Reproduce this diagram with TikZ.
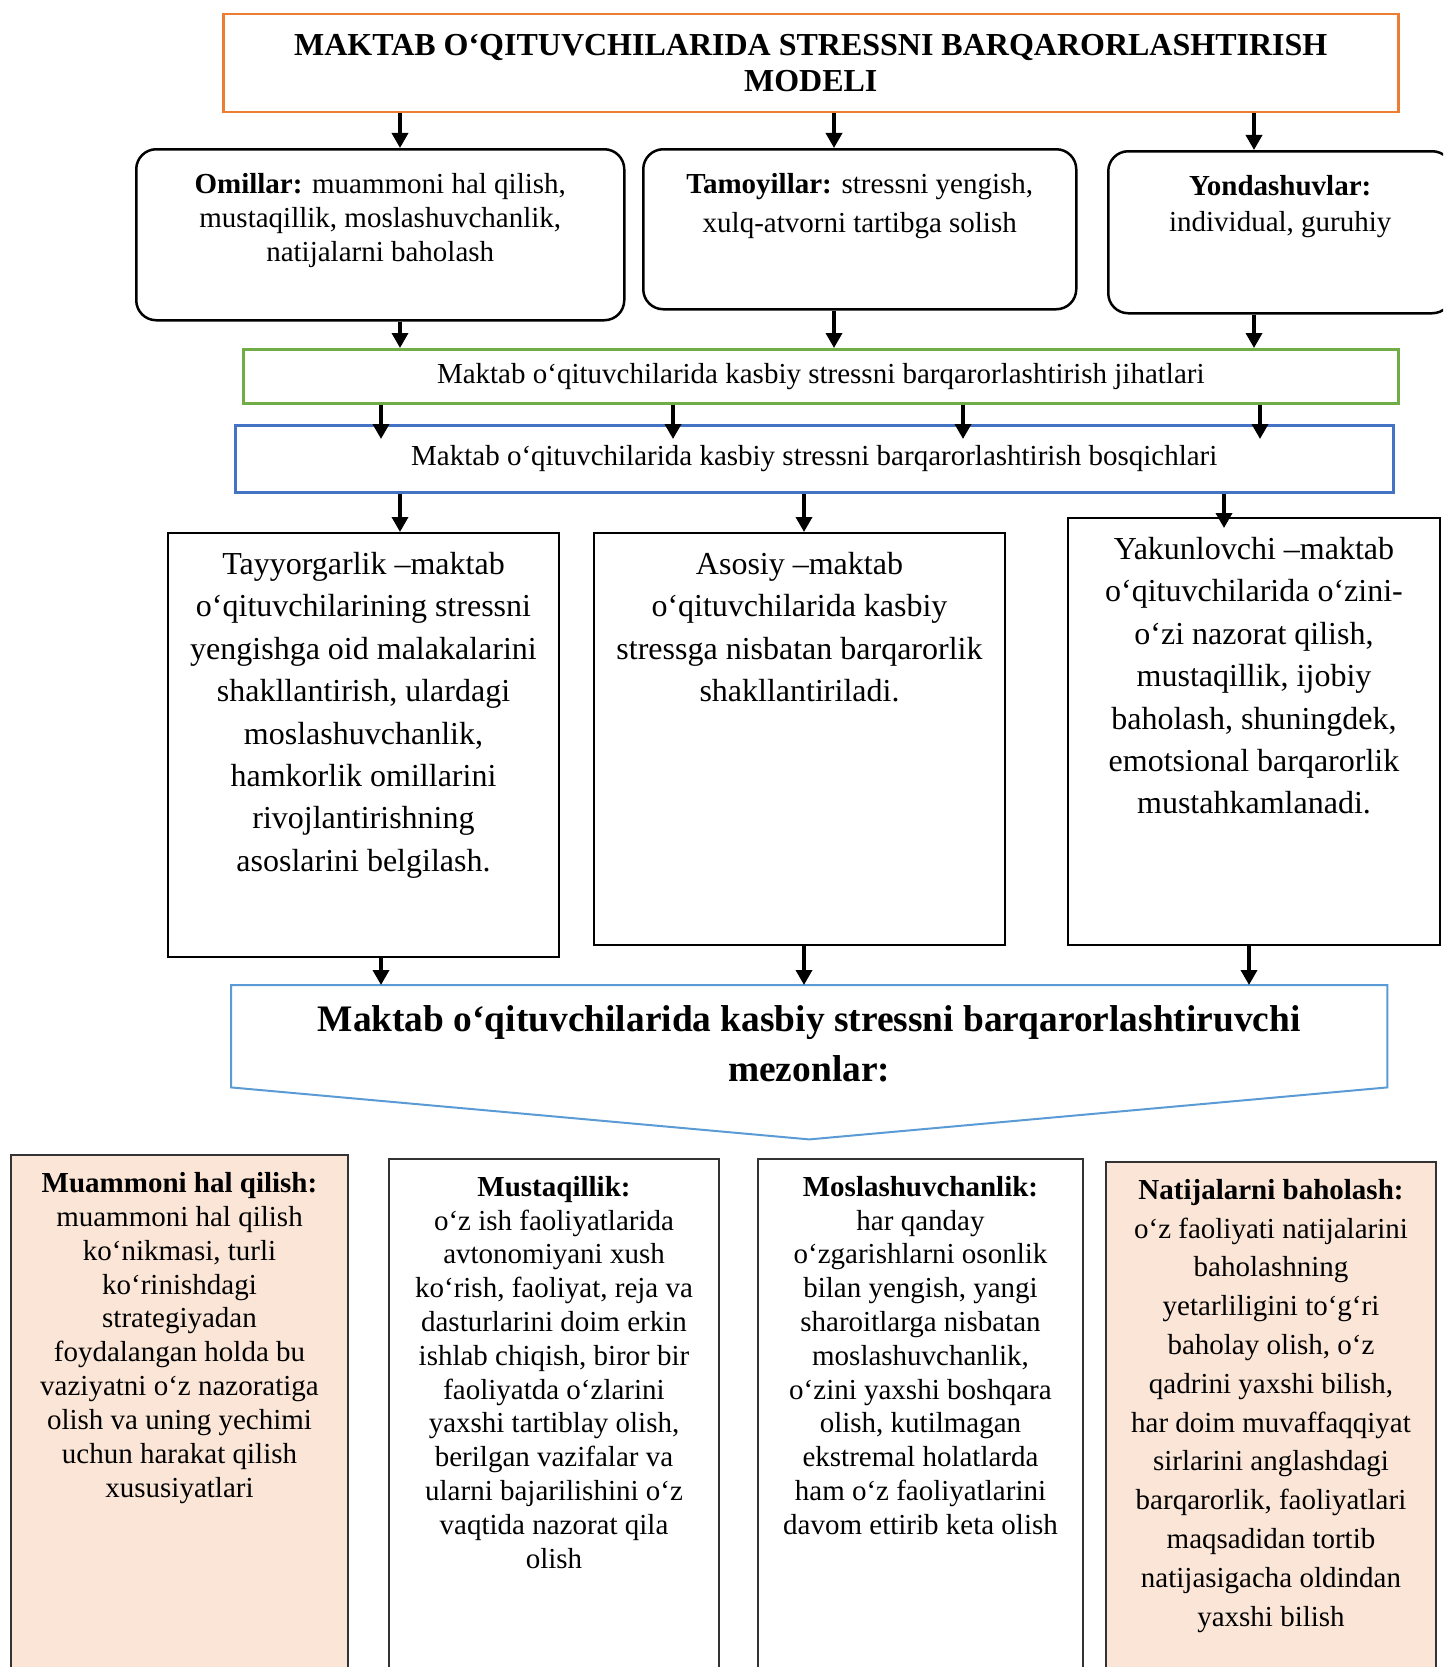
\documentclass[tikz,border=0pt]{standalone}
\usepackage{fontspec}
\setmainfont{Liberation Serif}
\usetikzlibrary{arrows.meta,positioning}

\definecolor{titleorange}{HTML}{ED7D31}
\definecolor{aspectgreen}{HTML}{70AD47}
\definecolor{stageblue}{HTML}{4472C4}
\definecolor{critblue}{HTML}{5B9BD5}
\definecolor{peach}{HTML}{FBE5D6}

\newcommand{\fsz}[2]{\fontsize{#1}{#2}\selectfont}

\begin{document}
\begin{tikzpicture}[x=1pt,y=-1pt,
  arr/.style={-{Triangle[length=15pt,width=16pt]},line width=3.5pt},
  frame/.style={draw,anchor=north west,inner sep=0pt},
  roundbox/.style={frame,rounded corners=20pt,line width=2.5pt},
  stagebox/.style={frame,line width=2pt},
  critbox/.style={frame,line width=2pt,draw=black!80},
  txt/.style={align=center,inner sep=0pt},
]
\useasboundingbox (0,0) rectangle (1443,1667);
\clip (0,0) rectangle (1443,1667);

% arrow columns
\coordinate (ca) at (400,0);
\coordinate (cb) at (834,0);
\coordinate (cc) at (1254,0);
\coordinate (g1) at (381,0);
\coordinate (g2) at (673,0);
\coordinate (g3) at (963,0);
\coordinate (g4) at (1260,0);
\coordinate (sb) at (804,0);
\coordinate (sc) at (1224,0);
\coordinate (mc) at (1249,0);

% Title
\node[frame,draw=titleorange,line width=2.5pt,minimum width=1175pt,minimum height=98pt,
  align=center,font=\bfseries\fsz{32}{36}] (title) at (222,13)
  {MAKTAB O‘QITUVCHILARIDA STRESSNI BARQARORLASHTIRISH\\MODELI};

% Factors, principles, approaches
\node[roundbox,minimum width=488pt,minimum height=171pt] (om) at (135,148) {};
\node[roundbox,minimum width=433pt,minimum height=160pt] (tam) at (642,148) {};
\node[roundbox,minimum width=344pt,minimum height=162pt] (yon) at (1107,150) {};
\node[txt,below=25pt of om.north,font=\fsz{29}{34}] (omt)
  {\textbf{Omillar:} muammoni hal qilish,\\mustaqillik, moslashuvchanlik,\\natijalarni baholash};
\node[txt,below=25pt of tam.north,font=\fsz{29}{39}] (tamt)
  {\textbf{Tamoyillar:} stressni yengish,\\xulq-atvorni tartibga solish};
\node[txt,below=25pt of yon.north,font=\fsz{29}{36}] (yont)
  {\textbf{Yondashuvlar:}\\individual, guruhiy};

% Aspects and stages
\node[frame,draw=aspectgreen,line width=2.5pt,minimum width=1155pt,minimum height=54pt,
  font=\fsz{29}{34}] (asp) at (242,348)
  {Maktab o‘qituvchilarida kasbiy stressni barqarorlashtirish jihatlari};
\node[frame,draw=stageblue,line width=2.5pt,minimum width=1158pt,minimum height=67pt,
  font=\fsz{29}{34}] (stg) at (234,424)
  {Maktab o‘qituvchilarida kasbiy stressni barqarorlashtirish bosqichlari};

\node[stagebox,minimum width=391pt,minimum height=424pt] (tay) at (167,532) {};
\node[stagebox,minimum width=411pt,minimum height=412pt] (aso) at (593,532) {};
\node[stagebox,minimum width=372pt,minimum height=427pt] (yak) at (1067,517) {};
\node[txt,below=20pt of tay.north,font=\fsz{32}{42.4}] (tayt)
  {Tayyorgarlik –maktab\\o‘qituvchilarining stressni\\yengishga oid malakalarini\\shakllantirish, ulardagi\\moslashuvchanlik,\\hamkorlik omillarini\\rivojlantirishning\\asoslarini belgilash.};
\node[txt,below=20pt of aso.north,font=\fsz{32}{42.4}] (asot)
  {Asosiy –maktab\\o‘qituvchilarida kasbiy\\stressga nisbatan barqarorlik\\shakllantiriladi.};
\node[txt,below=20pt of yak.north,font=\fsz{32}{42.4}] (yakt)
  {Yakunlovchi –maktab\\o‘qituvchilarida o‘zini-\\o‘zi nazorat qilish,\\mustaqillik, ijobiy\\baholash, shuningdek,\\emotsional barqarorlik\\mustahkamlanadi.};

% Criteria
\node[txt,anchor=north west,minimum width=1156pt,minimum height=102pt,
  font=\bfseries\fsz{37.4}{50}] (mez) at (231,985)
  {\rule{0pt}{42pt}Maktab o‘qituvchilarida kasbiy stressni barqarorlashtiruvchi\\mezonlar:};
\draw[critblue,line width=2pt] (mez.south west) -- (mez.north west) -- (mez.north east)
  -- (mez.south east) -- ([yshift=-52pt]mez.south) -- cycle;

\node[critbox,fill=peach,minimum width=337pt,minimum height=560pt] (sol) at (10,1154) {};
\node[critbox,minimum width=330pt,minimum height=560pt] (ind) at (388,1158) {};
\node[critbox,minimum width=325pt,minimum height=560pt] (ada) at (757,1158) {};
\node[critbox,fill=peach,minimum width=330pt,minimum height=560pt] (res) at (1105,1161) {};
\node[txt,below=18pt of sol.north,font=\fsz{29}{33.9}] (solt)
  {\textbf{Muammoni hal qilish:}\\muammoni hal qilish\\ko‘nikmasi, turli\\ko‘rinishdagi\\strategiyadan\\foydalangan holda bu\\vaziyatni o‘z nazoratiga\\olish va uning yechimi\\uchun harakat qilish\\xususiyatlari};
\node[txt,below=18pt of ind.north,font=\fsz{29}{33.8}] (indt)
  {\textbf{Mustaqillik:}\\o‘z ish faoliyatlarida\\avtonomiyani xush\\ko‘rish, faoliyat, reja va\\dasturlarini doim erkin\\ishlab chiqish, biror bir\\faoliyatda o‘zlarini\\yaxshi tartiblay olish,\\berilgan vazifalar va\\ularni bajarilishini o‘z\\vaqtida nazorat qila\\olish};
\node[txt,below=18pt of ada.north,font=\fsz{29}{33.8}] (adat)
  {\textbf{Moslashuvchanlik:}\\har qanday\\o‘zgarishlarni osonlik\\bilan yengish, yangi\\sharoitlarga nisbatan\\moslashuvchanlik,\\o‘zini yaxshi boshqara\\olish, kutilmagan\\ekstremal holatlarda\\ham o‘z faoliyatlarini\\davom ettirib keta olish};
\node[txt,below=18pt of res.north,font=\fsz{29}{38.8}] (rest)
  {\textbf{Natijalarni baholash:}\\o‘z faoliyati natijalarini\\baholashning\\yetarliligini to‘g‘ri\\baholay olish, o‘z\\qadrini yaxshi bilish,\\har doim muvaffaqqiyat\\sirlarini anglashdagi\\barqarorlik, faoliyatlari\\maqsadidan tortib\\natijasigacha oldindan\\yaxshi bilish};

% Arrows
\draw[arr] (title.south -| ca) -- (om.north -| ca);
\draw[arr] (title.south -| cb) -- (tam.north -| cb);
\draw[arr] (title.south -| cc) -- (yon.north -| cc);
\draw[arr] (om.south -| ca) -- (asp.north -| ca);
\draw[arr] (tam.south -| cb) -- (asp.north -| cb);
\draw[arr] (yon.south -| cc) -- (asp.north -| cc);
\draw[arr,shorten >=-15pt] (asp.south -| g1) -- (stg.north -| g1);
\draw[arr,shorten >=-15pt] (asp.south -| g2) -- (stg.north -| g2);
\draw[arr,shorten >=-15pt] (asp.south -| g3) -- (stg.north -| g3);
\draw[arr,shorten >=-15pt] (asp.south -| g4) -- (stg.north -| g4);
\draw[arr] (stg.south -| ca) -- (tay.north -| ca);
\draw[arr] (stg.south -| sb) -- (aso.north -| sb);
\draw[arr,shorten >=-11pt] (stg.south -| sc) -- (yak.north -| sc);
\draw[arr] (tay.south -| g1) -- (mez.north -| g1);
\draw[arr] (aso.south -| sb) -- (mez.north -| sb);
\draw[arr] (yak.south -| mc) -- (mez.north -| mc);
\end{tikzpicture}
\end{document}
